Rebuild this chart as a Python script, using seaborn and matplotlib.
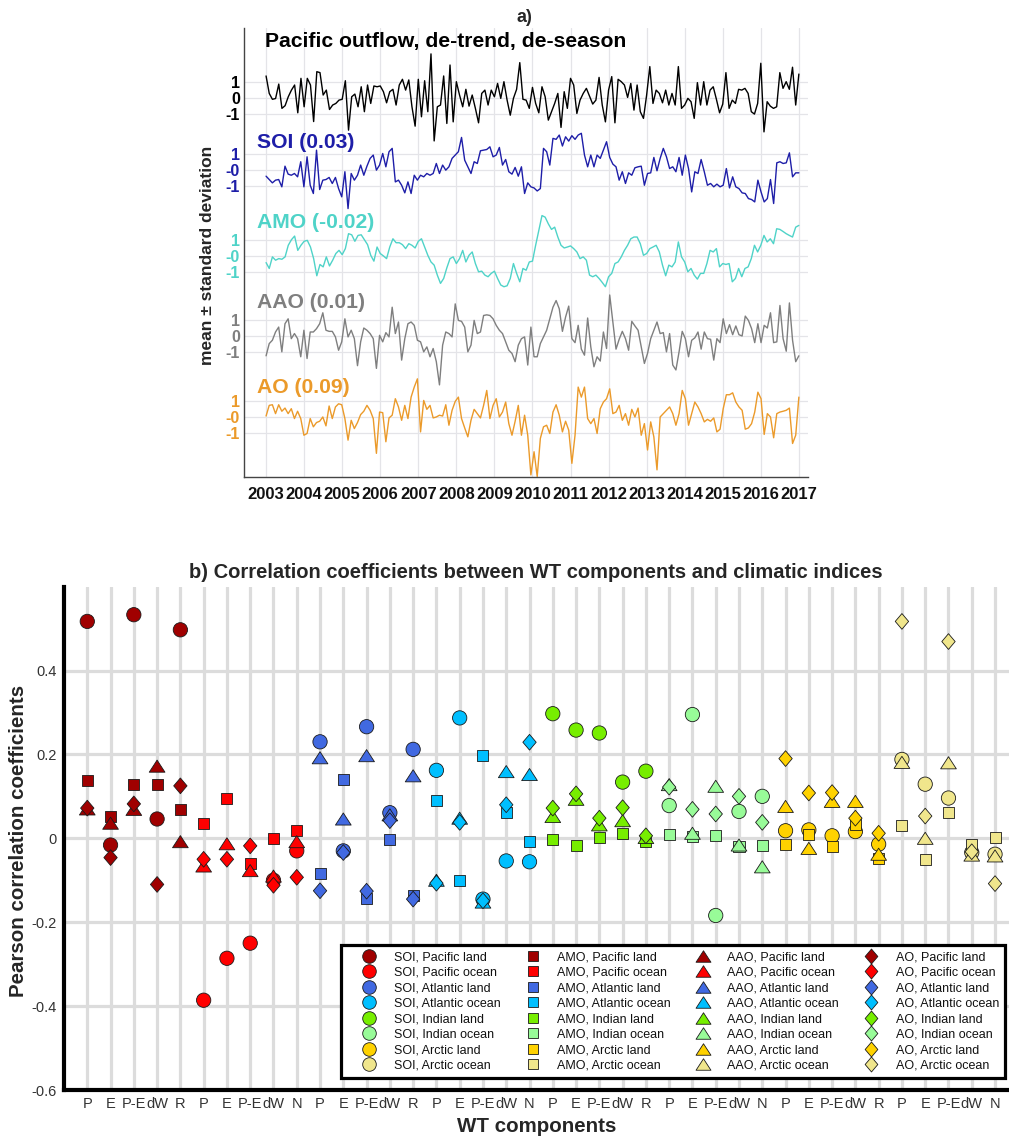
import numpy as np
import pandas as pd
import matplotlib
matplotlib.use("Agg")
import matplotlib.pyplot as plt
import seaborn as sns
from matplotlib.lines import Line2D
from matplotlib.markers import MarkerStyle
from matplotlib.path import Path

sns.set_style("white")
plt.rcParams['font.family'] = ['Liberation Sans', 'DejaVu Sans']

# ---------------- panel a) data: monthly standardized series, 2003-2017 ----------------
outflow = [1.37, 0.27, -0.1, -0.05, 0.86, -0.67, -0.5, 0.06, 0.48, 0.8, -0.95, 1.22, -0.57, 1.22, 0.8, -1.5,
           1.64, 1.58, 0.17, 0.48, -0.74, -0.46, -0.36, -0.15, -0.1, 1.07, -2.04, 0.06, 0.23, -0.57, 0.69, -0.88,
           0.8, -0.36, 0.74, 0.69, 0.74, 0.38, -0.32, 0.38, 0.53, -0.46, 0.8, 1.16, 0.48, 1.12, -0.57, -1.79,
           1.16, -1.2, 1.07, -0.88, 2.76, -2.72, -0.57, -0.46, 1.37, -1.62, 2.06, -1.52, 1.01, 0.17, -0.57, 0.53,
           -0.53, 0.17, -0.67, -1.58, 0.27, 0.48, -0.46, 0.48, 0.06, 0.9, -0.04, 1.01, -0.15, -1.1, -0.04, 0.53,
           2.21,
           -0.1, -0.15, -0.67, 0.65, -0.36, -0.95, 0.69, 0.06, -1.41, -0.88, -0.36, 0.27, -1.87, 0.38, -0.67, 1.22,
           0.8, -0.99, -0.15, 0.27, 0.59, 0.1, -0.4, -0.15, 1.28, -0.46, -1.52, 0.48, 1.33, -1.58, 1.16, 1.01,
           0.8, 0.02, 0.9, -0.78, 0.8, -0.88, -1.3, 0.17, 1.96, -0.36, 0.48, 0.27, -0.32, 0.48, -0.46, 0.27,
           -0.46, 1.96, -0.67, -0.46, -0.04, -0.25, -1.3, 0.95, -0.46, 1.01, -0.46, 0.48, 0.69, -0.1, -0.95, -0.4,
           1.58, -0.67, -0.15, -0.36, 0.53, 0.48, 0.59, 0.27, -0.88, -1.03, -0.36, 2.17, -2.15, -0.25, -0.53, -0.67,
           -0.57, 1.58, 0.59, 1.01, 0.53, 1.92, -0.46, 1.49]
soi_ts = [-0.38, -0.59, -0.8, -0.63, -0.59, -1.05, 0.25, -0.25, -0.32, -0.21, -0.42, 0.53, -1.05, 0.84, -0.95, -1.47,
          1.26, -1.22, -0.63, -0.59, -0.46, -0.84, -0.46, -1.16, -1.68, -0.1, -2.42, -0.21, -0.63, -0.32, 0.32, -0.32,
          0.25, 0.74, 0.95, 0.0, 0.32, 1.05, 0.21, 1.16, 1.37, -0.74, -0.63, -0.95, -1.43, -0.74, -1.47, -0.32,
          -0.63, -0.32, -0.42, -0.21, -0.32, -0.21, 0.42, -0.21, 0.32, 0.0, 0.21, 0.74, 0.95, 1.16, 2.06, 0.63,
          0.21, -0.21, 0.53, 0.42, 1.22, 1.26, 1.3, 1.47, 0.84, 0.95, 1.43, 0.32, 0.67, -0.1, -0.25, 0.17,
          -0.38, 0.21,
          -1.47, -0.8, -1.05, -1.12, -1.31, -1.16, 1.37, 1.16, 0.32, 2.0, 1.94, 2.21, 1.52, 2.1, 1.83, 2.17,
          1.94, 2.21, 2.32, 0.95, 0.21, 0.95, 0.21, 0.95, 0.74, 1.26, 1.79, 0.8, 0.38, 0.21, -0.63, -0.1,
          -0.84, -0.17, -0.32, 0.15, 0.21, 0.25, -0.95, -0.21, -0.17, 0.8, -0.04, 0.74, 1.37, 0.84, 0.1, 0.21,
          -0.1, 0.8, -0.32, 0.95, 0.1, -1.37, -0.1, -0.21, 0.67, -0.1, -0.95, -0.84, -1.05, -0.88, -1.05, -0.95,
          0.1, -1.12, -0.42, -1.05, -1.16, -1.43, -1.47, -1.79, -1.85, -2.0, -0.63, -1.37, -2.0, -1.79, -0.59, -2.1,
          0.46, 0.53, 0.42, 0.46, 1.09, -0.42, -0.17, -0.17]
amo_ts = [-0.42, -0.79, -0.06, -0.27, -0.17, -0.21, -0.06, 0.67, 1.02, 1.25, 0.35, 0.67, 0.92, 0.98, 0.56, -0.17,
          -1.25, -0.54, -0.69, -0.06, -0.63, -0.27, 0.15, 0.35, 0.08, 0.46, 1.4, 1.33, 0.92, 1.29, 1.33, 1.02,
          0.71, 0.04, -0.33, 0.56, 0.15, 0.0, -0.17, 0.56, 1.08, 0.83, 0.83, 0.71, 0.46, 0.77, 0.67, 0.5,
          0.92, 1.08, 0.56, 0.04, -0.38, -0.58, -1.21, -1.73, -1.42, -0.75, -0.17, -0.06, -0.48, -0.17, 0.35, -0.38,
          0.04, 0.25, -0.48, -1.0, -0.96, -1.21, -1.31, -1.1, -0.96, -1.42, -1.83, -1.94, -1.88, -1.42, -0.48, -1.1,
          -1.63,
          -0.79, -0.9, -0.38, -0.33, 0.67, 1.6, 2.54, 2.44, 2.02, 1.67, 1.81, 1.19, 0.67, 0.5, 0.56, 0.63,
          0.46, 0.25, -0.17, -0.06, -0.27, -1.21, -1.31, -1.21, -1.42, -1.67, -1.94, -1.31, -1.1, -0.48, -0.38, -0.06,
          0.35, 0.67, 1.08, 1.19, 1.19, 0.77, 0.04, 0.15, 0.46, 0.56, 0.67, 0.25, -0.58, -1.25, -0.58, -0.69,
          -0.38, 0.88, -0.06, -0.38, -1.0, -0.79, -1.21, -1.46, -1.1, -1.1, -0.48, 0.35, 0.25, 0.46, -0.69, -0.48,
          -0.54, -0.48, -1.63, -1.42, -0.79, -1.31, -0.79, -0.69, -0.17, 0.67, 0.25, 0.67, 1.29, 0.88, 1.08, 0.77,
          1.71, 1.67, 1.54, 1.4, 1.29, 1.19, 1.81, 1.92]
aao_ts = [-1.23, -0.46, -0.25, 0.27, 0.58, -0.98, 0.79, 1.1, -0.15, 0.17, -0.15, -1.29, 0.38, -1.4, 0.27, 0.27,
          0.48, 0.79, 1.48, 0.38, 0.31, 0.31, -0.04, -0.88, -0.35, 1.1, -0.04, 0.38, -0.15, -1.85, -0.35, 0.52,
          0.38, 0.17, -0.15, -2.02, 0.06, -0.35, 0.23, -0.04, 1.83, 0.17, 0.9, -1.5, -0.15, 0.79, 0.9, 0.69,
          -0.25, -0.35, -0.98, -0.67, -1.29, -0.77, -1.6, -3.06, -0.56, 0.27, 0.17, -0.04, 2.04, 1.0, 0.94, 0.58,
          -0.98, -0.56, 1.0, 0.17, 0.27, 1.31, 1.35, 1.31, 1.1, 0.69, 0.38, 0.17, -0.35, -0.88, -1.08, -1.6,
          -0.56, -0.15,
          -0.04, -1.81, 0.58, -1.29, -1.29, -0.46, -0.04, 0.38, 1.1, 1.83, 2.25, 1.73, 0.31, 1.21, 1.9, -0.15,
          -0.4, 0.69, -0.81, -1.19, 1.15, -0.67, -1.92, -1.29, -1.56, 0.27, -0.77, 2.6, 0.9, -0.81, -0.19, 0.31,
          -0.15, -0.88, 0.94, 0.65, 0.38, -0.67, -1.71, -1.08, -0.15, 0.38, 0.9, 0.17, 0.23, -0.98, 0.17, -1.81,
          -2.12, -0.98, 0.31, -0.15, -1.29, -0.25, -0.1, 0.27, -0.81, 0.27, -0.15, -0.19, -1.5, -0.15, -0.4, 1.1,
          0.17, 0.73, 0.1, 0.65, 0.1, 0.02, 1.27, 1.0, 0.48, -0.4, 0.79, -0.4, 0.69, 0.52, 1.48, -0.4,
          -0.35, 1.94, -0.15, -0.94, 2.1, -0.25, -1.6, -1.23]
ao_ts = [0.08, 0.75, 0.79, 0.23, 0.79, 0.38, 0.58, 0.23, 0.54, -0.08, 0.38, -0.08, -1.13, -1.02, -0.08, -0.6,
         -0.33, -0.25, 0.02, -0.54, 0.71, -0.08, 0.65, 0.85, 0.79, -0.08, -1.44, -0.19, -0.71, -0.33, 0.17, 0.38,
         0.75, 0.44, -0.08, -2.27, 0.33, 0.29, -1.54, -0.04, 0.13, 1.17, 0.65, -0.19, 0.75, -0.08, 1.27, 1.9,
         2.42, -0.92, 1.06, 0.5, 0.75, -0.04, 0.02, 0.13, 0.08, 0.79, -0.5, 0.44, 1.0, 1.27, -0.08, -0.67,
         -1.23, -0.19, 0.5, 0.23, -0.04, 0.75, 1.69, -0.08, 0.75, 1.17, 0.02, 0.33, 0.96, -0.4, -1.13, -0.25,
         0.75,
         -1.13, 0.13, -1.13, -3.63, -2.17, -3.73, -1.33, -0.6, -0.5, -1.02, 0.33, 0.79, 0.13, -0.92, -0.25, -0.81,
         -2.9, -1.13, 1.9, 1.27, 1.9, -0.08, -0.4, -0.08, -1.02, 0.54, 0.96, 1.17, 1.79, 0.23, 0.33, 0.75,
         -0.19, 0.23, -0.5, 0.5, 0.02, 0.58, -1.13, -0.4, -2.06, -0.29, -1.23, -3.31, 0.02, 0.23, 0.44, 0.65,
         0.23, -0.5, 0.23, 1.69, 1.17, -0.5, 0.23, 0.96, 0.65, 0.23, -0.29, -0.13, -0.25, -0.04, -0.92, -0.75,
         0.54, 1.42, 1.42, 1.54, 0.96, 0.65, 0.44, -0.75, -0.67, -0.4, 0.33, 1.58, 1.17, -1.08, 0.23, 0.02,
         -1.29, 0.23, 0.33, 0.38, 0.44, 0.58, -1.65, -1.13, 1.27]

series_names = ["Pacific outflow, de-trend, de-season", "SOI (0.03)", "AMO (-0.02)", "AAO (0.01)", "AO (0.09)"]
series_values = [outflow, soi_ts, amo_ts, aao_ts, ao_ts]
series_ticklabels = [["1", "0", "-1"], ["1", "-0", "-1"], ["1", "-0", "-1"], ["1", "0", "-1"], ["1", "-0", "-1"]]
years = list(range(2003, 2018))

# ---------------- panel b) data: correlation coefficients ----------------
indices = ["SOI", "AMO", "AAO", "AO"]
regions = ["Pacific land", "Pacific ocean", "Atlantic land", "Atlantic ocean",
           "Indian land", "Indian ocean", "Arctic land", "Arctic ocean"]
comp_land = ["P", "E", "P-E", "dW", "R"]
comp_ocean = ["P", "E", "P-E", "dW", "N"]

r_soi = [0.517, -0.016, 0.533, 0.046, 0.497, -0.386, -0.286, -0.250, -0.100, -0.030,
         0.230, -0.030, 0.266, 0.061, 0.212, 0.162, 0.287, -0.145, -0.054, -0.056,
         0.297, 0.258, 0.251, 0.134, 0.160, 0.078, 0.295, -0.184, 0.064, 0.100,
         0.018, 0.020, 0.006, 0.016, -0.014, 0.188, 0.129, 0.096, -0.034, -0.038]
r_amo = [0.137, 0.052, 0.129, 0.129, 0.069, 0.035, 0.096, -0.060, 0.000, 0.018,
         -0.084, 0.141, -0.144, -0.002, -0.137, 0.090, -0.100, 0.197, 0.062, -0.008,
         -0.004, -0.016, 0.003, 0.012, -0.008, 0.008, 0.004, 0.006, -0.020, -0.016,
         -0.014, 0.010, -0.020, 0.034, -0.048, 0.030, -0.050, 0.062, -0.014, 0.002]
r_aao = [0.070, 0.036, 0.069, 0.172, -0.008, -0.066, -0.013, -0.077, -0.090, -0.008,
         0.192, 0.046, 0.197, 0.056, 0.149, -0.100, 0.048, -0.152, 0.159, 0.152,
         0.052, 0.093, 0.032, 0.042, 0.002, 0.128, 0.012, 0.124, -0.016, -0.068,
         0.076, -0.024, 0.088, 0.088, -0.038, 0.181, 0.000, 0.180, -0.040, -0.042]
r_ao = [0.072, -0.046, 0.082, -0.110, 0.125, -0.050, -0.050, -0.018, -0.112, -0.093,
        -0.125, -0.034, -0.126, 0.042, -0.145, -0.107, 0.038, -0.149, 0.080, 0.229,
        0.072, 0.106, 0.048, 0.073, 0.006, 0.122, 0.069, 0.058, 0.100, 0.038,
        0.190, 0.108, 0.109, 0.048, 0.012, 0.517, 0.053, 0.469, -0.032, -0.108]

# ---------------- styles / layout ----------------
W, H = 1009, 1140
fig = plt.figure(figsize=(W / 100, H / 100), dpi=100)

series_colors = ["#000000", "#1e1ea8", "#4fd3c8", "#7f7f7f", "#eb9a2a"]
series_offsets = [0.0, -4.56, -9.96, -15.02, -20.12]
label_y = [3.51, -2.79, -7.83, -12.87, -18.23]
label_x = [2002.98, 2002.77, 2002.77, 2002.77, 2002.77]

ax1 = fig.add_axes([244 / W, 1 - 477 / H, (808 - 244) / W, (477 - 28) / H])
for vals, col, off in zip(series_values, series_colors, series_offsets):
    t = np.linspace(2003, 2017, len(vals))
    sns.lineplot(x=t, y=np.asarray(vals) + off, ax=ax1, color=col, linewidth=1.0)
for name, col, lx, ly in zip(series_names, series_colors, label_x, label_y):
    ax1.text(lx, ly, name, color=col, fontsize=15.2, fontweight='bold', ha='left', va='center')

ax1.set_xlim(2002.42, 2017.24)
ax1.set_ylim(-23.88, 4.39)
ticks, labs, tcols = [], [], []
for off, tl, col in zip(series_offsets, series_ticklabels, series_colors):
    for v, s in zip([1, 0, -1], tl):
        ticks.append(off + v)
        labs.append(s)
        tcols.append(col)
ax1.set_yticks(ticks)
ax1.set_yticklabels(labs, fontweight='bold', fontsize=11.5)
for lab, c in zip(ax1.get_yticklabels(), tcols):
    lab.set_color(c)
ax1.set_xticks(years)
ax1.set_xticklabels([str(y) for y in years], fontweight='bold', fontsize=12)
ax1.grid(True, color='#e4e4e8', linewidth=0.9)
ax1.set_axisbelow(True)
for s in ['top', 'right']:
    ax1.spines[s].set_visible(False)
for s in ['left', 'bottom']:
    ax1.spines[s].set_color('#444444')
    ax1.spines[s].set_linewidth(1.0)
ax1.tick_params(axis='both', direction='in', length=5, width=0.8, color='#444444')
ax1.tick_params(axis='y', pad=3)
ax1.tick_params(axis='x', pad=7, colors='#111111')
fig.text(524 / W, 1 - 18 / H, "a)", fontsize=13, fontweight='bold', ha='center', va='center')
fig.text(207 / W, 1 - 255 / H, "mean \u00b1 standard deviation", rotation=90, fontsize=12.5,
         fontweight='bold', ha='center', va='center')

# ---------------- panel b ----------------
region_colors = ["#a00000", "#ff0000", "#4169e1", "#00bfff", "#77ee00", "#98fb98", "#ffd200", "#f0e68c"]
diamond = MarkerStyle(Path([(0, 1), (0.85, 0), (0, -1), (-0.85, 0), (0, 1)], closed=True))
triangle = MarkerStyle(Path([(0, 0.77), (1, -0.77), (-1, -0.77), (0, 0.77)], closed=True))
marker_map = {"SOI": "o", "AMO": "s", "AAO": triangle, "AO": diamond}
size_map = {"SOI": 106, "AMO": 63, "AAO": 128, "AO": 128}

components = (comp_land + comp_ocean) * 4
rows = []
for idx, vals in zip(indices, [r_soi, r_amo, r_aao, r_ao]):
    for k, v in enumerate(vals):
        rows.append({"pos": k + 1, "r": v, "region": regions[k // 5], "index": idx})
df = pd.DataFrame(rows)

ax2 = fig.add_axes([64 / W, 1 - 1090 / H, (W - 64) / W, (1090 - 586.6) / H])
sns.scatterplot(data=df, x="pos", y="r", hue="region", style="index", size="index",
                palette=dict(zip(regions, region_colors)), markers=marker_map, sizes=size_map,
                hue_order=regions, style_order=indices, size_order=indices,
                edgecolor="#1a1a1a", linewidth=0.6, legend=False, ax=ax2, zorder=3)
ax2.set_xlim(0, 40.6)
ax2.set_ylim(-0.6, 0.6)
ax2.set_xticks(range(1, 41))
ax2.set_xticklabels(components)
ax2.set_yticks([-0.6, -0.4, -0.2, 0, 0.2, 0.4])
ax2.set_yticklabels(["-0.6", "-0.4", "-0.2", "0", "0.2", "0.4"])
ax2.set_xlabel("")
ax2.set_ylabel("")
ax2.grid(True, color='#dcdcdc', linewidth=2.3)
ax2.set_axisbelow(True)
for s in ['top', 'right']:
    ax2.spines[s].set_visible(False)
for s in ['left', 'bottom']:
    ax2.spines[s].set_color('black')
    ax2.spines[s].set_linewidth(3.0)
ax2.tick_params(axis='both', direction='in', length=7, width=2.3, color='black',
                labelsize=10.5, labelcolor='#333333')
ax2.tick_params(axis='x', pad=5)
ax2.tick_params(axis='y', pad=5)

handles, labels = [], []
for idx in indices:
    for reg, col in zip(regions, region_colors):
        handles.append(Line2D([], [], linestyle='none', marker=marker_map[idx],
                              markersize=np.sqrt(size_map[idx]) * 0.95, markerfacecolor=col,
                              markeredgecolor='#1a1a1a', markeredgewidth=0.6))
        labels.append(f"{idx}, {reg}")
leg = ax2.legend(handles, labels, ncol=4, loc='lower right', bbox_to_anchor=(0.9958, 0.0244),
                 frameon=True, fancybox=False, edgecolor='black', framealpha=1, fontsize=9,
                 handlelength=3.52, handletextpad=0.18, columnspacing=0.83, labelspacing=0.28,
                 borderpad=0.48, borderaxespad=0)
leg.get_frame().set_linewidth(2.3)
for txt in leg.get_texts():
    txt.set_color('#111111')

fig.text(536 / W, 1 - 573 / H, "b) Correlation coefficients between WT components and climatic indices",
         fontsize=14.5, fontweight='bold', ha='center', va='center')
fig.text(19 / W, 1 - 841 / H, "Pearson correlation coefficients", rotation=90, fontsize=14.8,
         fontweight='bold', ha='center', va='center')
fig.text(537 / W, 1 - 1127 / H, "WT components", fontsize=14.8, fontweight='bold', ha='center', va='center')

fig.savefig("out.png", dpi=100)
